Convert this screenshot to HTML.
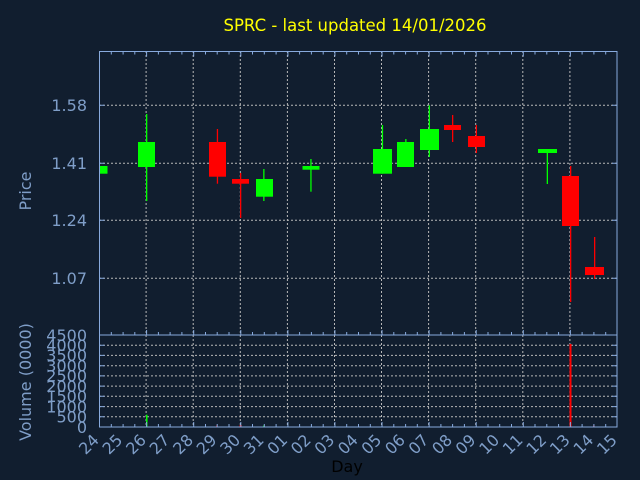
<!DOCTYPE html>
<html><head><meta charset="utf-8"><style>
html,body{margin:0;padding:0;background:#111e2f;}
svg{display:block;}
text{font-family:"DejaVu Sans","Liberation Sans",sans-serif;}
</style></head><body>
<svg width="640" height="480" viewBox="0 0 640 480" xmlns="http://www.w3.org/2000/svg">
<rect width="640" height="480" fill="#111e2f"/>
<text x="355" y="31" font-size="16.5" fill="#ffff00" text-anchor="middle">SPRC - last updated 14/01/2026</text>

<defs><clipPath id="cp"><rect x="99" y="51" width="518" height="284"/></clipPath></defs>

<g stroke="#b8b8b8" stroke-width="1" stroke-dasharray="2,2" fill="none">
<path d="M146.1 51V427M193.2 51V427M240.3 51V427M287.4 51V427M334.5 51V427M381.5 51V427M428.6 51V427M475.7 51V427M522.8 51V427M569.9 51V427"/>
<path d="M99 105.3H617M99 163.3H617M99 220.3H617M99 278.3H617"/>
<path d="M99 345.2H617M99 355.4H617M99 365.7H617M99 375.9H617M99 386.1H617M99 396.3H617M99 406.6H617M99 416.8H617"/>
</g>

<g clip-path="url(#cp)">
<g fill="#00ff00">
<rect x="90.5" y="166" width="17" height="7.7"/>
<rect x="146" y="114" width="1.3" height="87"/><rect x="138" y="142" width="17" height="25"/>
<rect x="263.2" y="169" width="1.3" height="32"/><rect x="256" y="179" width="17" height="17.7"/>
<rect x="310.3" y="159" width="1.3" height="32.7"/><rect x="302.5" y="166" width="17" height="3.7"/>
<rect x="381.8" y="125" width="1.3" height="48.7"/><rect x="373" y="149" width="19" height="24.7"/>
<rect x="405.2" y="139" width="1.3" height="28"/><rect x="397" y="142" width="17" height="25"/>
<rect x="428.7" y="105.3" width="1.3" height="51.7"/><rect x="420" y="129" width="19" height="21"/>
<rect x="546.7" y="149" width="1.3" height="35"/><rect x="538" y="149" width="19" height="4"/>
</g>
<g fill="#ff0000">
<rect x="216.8" y="129" width="1.3" height="54.7"/><rect x="209" y="142" width="17" height="34.7"/>
<rect x="240" y="173" width="1.3" height="45"/><rect x="232" y="179" width="17" height="4.7"/>
<rect x="452" y="115" width="1.3" height="27"/><rect x="444" y="125" width="17" height="5"/>
<rect x="475.7" y="125" width="1.3" height="28"/><rect x="468" y="136" width="17" height="11"/>
<rect x="570" y="166" width="1.3" height="136"/><rect x="562" y="176" width="17" height="50"/>
<rect x="594" y="237" width="1.3" height="42"/><rect x="585" y="267" width="19" height="8"/>
</g>
</g>

<!-- volume bars -->
<rect x="146" y="414.7" width="1.5" height="12.3" fill="#00ff00"/>
<rect x="216.2" y="425.5" width="1.3" height="1.5" fill="#ff0000"/>
<rect x="239.6" y="425" width="2" height="2" fill="#ff0000"/>
<rect x="263.2" y="425.5" width="1.3" height="1.5" fill="#00ff00"/>
<rect x="569.5" y="344" width="2" height="83" fill="#ff0000"/>
<rect x="593.2" y="425.5" width="1.3" height="1.5" fill="#ff0000"/>

<!-- axes -->
<g stroke="#88aadd" stroke-width="1" fill="none">
<rect x="99.5" y="51.5" width="517.5" height="283.5"/>
<rect x="99.5" y="335" width="517.5" height="92"/>
<path id="tk" d="
M111.3 51.5v3M123.1 51.5v3M134.8 51.5v3M146.6 51.5v5M158.4 51.5v3M170.1 51.5v3M181.9 51.5v3M193.7 51.5v5M205.5 51.5v3M217.2 51.5v3M229 51.5v3M240.8 51.5v5M252.5 51.5v3M264.3 51.5v3M276.1 51.5v3M287.9 51.5v5M299.6 51.5v3M311.4 51.5v3M323.2 51.5v3M334.9 51.5v5M346.7 51.5v3M358.5 51.5v3M370.3 51.5v3M382 51.5v5M393.8 51.5v3M405.6 51.5v3M417.3 51.5v3M429.1 51.5v5M440.9 51.5v3M452.6 51.5v3M464.4 51.5v3M476.2 51.5v5M488 51.5v3M499.7 51.5v3M511.5 51.5v3M523.3 51.5v5M535 51.5v3M546.8 51.5v3M558.6 51.5v3M570.4 51.5v5M582.1 51.5v3M593.9 51.5v3M605.7 51.5v3"/>
<use href="#tk" transform="translate(0,335) scale(1,-1) translate(0,-51.5)"/>
<use href="#tk" transform="translate(0,427) scale(1,-1) translate(0,-51.5)"/>
<path d="M99.5 105.3h5M99.5 163.3h5M99.5 220.3h5M99.5 278.3h5M617 105.3h-5M617 163.3h-5M617 220.3h-5M617 278.3h-5"/>
<path d="M99.5 345.2h5M99.5 355.4h5M99.5 365.7h5M99.5 375.9h5M99.5 386.1h5M99.5 396.3h5M99.5 406.6h5M99.5 416.8h5M617 345.2h-5M617 355.4h-5M617 365.7h-5M617 375.9h-5M617 386.1h-5M617 396.3h-5M617 406.6h-5M617 416.8h-5"/>
</g>

<g fill="#7f9ec8" font-size="16" text-anchor="end">
<text x="87" y="111">1.58</text>
<text x="87" y="169">1.41</text>
<text x="87" y="226">1.24</text>
<text x="87" y="284">1.07</text>
<text x="87" y="341">4500</text>
<text x="87" y="351">4000</text>
<text x="87" y="361">3500</text>
<text x="87" y="371.5">3000</text>
<text x="87" y="381.5">2500</text>
<text x="87" y="392">2000</text>
<text x="87" y="402">1500</text>
<text x="87" y="412.5">1000</text>
<text x="87" y="422.5">500</text>
<text x="87" y="433">0</text>
</g>
<text transform="translate(31,191) rotate(-90)" font-size="16" fill="#7f9ec8" text-anchor="middle">Price</text>
<text transform="translate(31,382) rotate(-90)" font-size="16" fill="#7f9ec8" text-anchor="middle">Volume (0000)</text>

<g fill="#7f9ec8" font-size="16" text-anchor="end">
<text transform="translate(100,441) rotate(-45)">24</text>
<text transform="translate(123.5,441) rotate(-45)">25</text>
<text transform="translate(147.1,441) rotate(-45)">26</text>
<text transform="translate(170.6,441) rotate(-45)">27</text>
<text transform="translate(194.2,441) rotate(-45)">28</text>
<text transform="translate(217.7,441) rotate(-45)">29</text>
<text transform="translate(241.3,441) rotate(-45)">30</text>
<text transform="translate(264.8,441) rotate(-45)">31</text>
<text transform="translate(288.4,441) rotate(-45)">01</text>
<text transform="translate(311.9,441) rotate(-45)">02</text>
<text transform="translate(335.5,441) rotate(-45)">03</text>
<text transform="translate(359,441) rotate(-45)">04</text>
<text transform="translate(382.5,441) rotate(-45)">05</text>
<text transform="translate(406.1,441) rotate(-45)">06</text>
<text transform="translate(429.6,441) rotate(-45)">07</text>
<text transform="translate(453.2,441) rotate(-45)">08</text>
<text transform="translate(476.7,441) rotate(-45)">09</text>
<text transform="translate(500.3,441) rotate(-45)">10</text>
<text transform="translate(523.8,441) rotate(-45)">11</text>
<text transform="translate(547.4,441) rotate(-45)">12</text>
<text transform="translate(570.9,441) rotate(-45)">13</text>
<text transform="translate(594.5,441) rotate(-45)">14</text>
<text transform="translate(618,441) rotate(-45)">15</text>
</g>
<text x="347" y="472" font-size="16" fill="#000000" text-anchor="middle">Day</text>
</svg>
</body></html>
